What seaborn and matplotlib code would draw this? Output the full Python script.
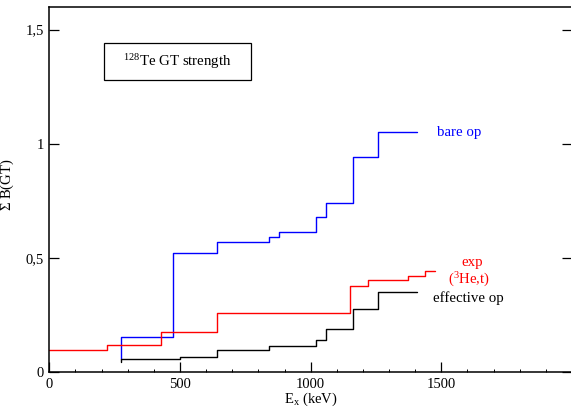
import matplotlib
matplotlib.use("Agg")
import matplotlib.pyplot as plt
import seaborn as sns
import pandas as pd
from matplotlib.patches import Rectangle
from matplotlib.ticker import MultipleLocator, FixedLocator

# data (E_x in keV, cumulative B(GT))
bare_x = [273, 273, 472, 642, 841, 878, 1021, 1059, 1161, 1257, 1408]
bare_y = [0.058, 0.153, 0.520, 0.571, 0.593, 0.615, 0.678, 0.742, 0.943, 1.050, 1.050]
exp_x = [0, 221, 427, 640, 1152, 1221, 1374, 1437, 1477]
exp_y = [0.098, 0.121, 0.176, 0.259, 0.379, 0.404, 0.421, 0.442, 0.442]
eff_x = [273, 273, 500, 642, 841, 1021, 1059, 1161, 1257, 1408]
eff_y = [0.044, 0.058, 0.066, 0.098, 0.114, 0.141, 0.188, 0.278, 0.353, 0.353]

x_ticks = [0, 500, 1000, 1500]
x_tick_labels = ["0", "500", "1000", "1500"]
y_ticks = [0, 0.5, 1.0, 1.5]
y_tick_labels = ["0", "0,5", "1", "1,5"]

sns.set_theme(style="white")
plt.rcParams["font.family"] = ["Liberation Serif", "DejaVu Serif"]
plt.rcParams["mathtext.fontset"] = "custom"
plt.rcParams["mathtext.rm"] = "Liberation Serif"
plt.rcParams["mathtext.it"] = "Liberation Serif"

fig = plt.figure(figsize=(5.71, 4.08), dpi=100)
ax = fig.add_axes([49.3 / 571, 1 - 372.3 / 408, (572 - 49.3) / 571, (372.3 - 6.7) / 408])

for xs, ys, col in [(bare_x, bare_y, "#0000ff"), (exp_x, exp_y, "#ff0000"), (eff_x, eff_y, "#000000")]:
    df = pd.DataFrame({"x": xs, "y": ys})
    sns.lineplot(data=df, x="x", y="y", ax=ax, drawstyle="steps-post", sort=False,
                 estimator=None, color=col, lw=1.0)

ax.set_xlim(0, 2000)
ax.set_ylim(0, 1.6)
ax.xaxis.set_major_locator(FixedLocator(x_ticks))
ax.set_xticklabels(x_tick_labels)
ax.xaxis.set_minor_locator(MultipleLocator(100))
ax.yaxis.set_major_locator(FixedLocator(y_ticks))
ax.set_yticklabels(y_tick_labels)

ax.tick_params(axis="both", which="major", direction="in", length=7.2, width=0.9,
               color="black", labelsize=10.5, labelcolor="black", pad=4)
ax.tick_params(axis="x", which="minor", direction="in", length=2.5, width=0.7,
               color="black", bottom=True)
ax.tick_params(axis="y", which="both", right=True, left=True)
ax.tick_params(axis="x", which="both", top=False, bottom=True)

for s in ax.spines.values():
    s.set_color("black")
    s.set_linewidth(1.1)

ax.set_xlabel(r"E$_\mathrm{x}$ (keV)", fontsize=10.5, color="black", labelpad=0)
ax.set_ylabel(r"$\Sigma$ B(GT)", fontsize=10.5, color="black")
ax.yaxis.set_label_coords(-0.063, (372.3 - 184.5) / (372.3 - 6.7))

fs = 10.7
ax.text(1484, 1.048, "bare op", color="#0000ff", fontsize=fs, va="center", ha="left")
ax.text(1617, 0.482, "exp", color="#ff0000", fontsize=fs, va="center", ha="center")
ax.text(1605, 0.405, r"($^{3}$He,t)", color="#ff0000", fontsize=fs, va="center", ha="center")
ax.text(1468, 0.325, "effective op", color="black", fontsize=fs, va="center", ha="left")

ax.add_patch(Rectangle((210, 1.279), 561, 0.163, fill=False, ec="black", lw=0.9, zorder=3))
ax.text(489, 1.358, r"$^{128}$Te GT strength", fontsize=fs, color="black", va="center", ha="center")

fig.savefig("out.png", dpi=100)
